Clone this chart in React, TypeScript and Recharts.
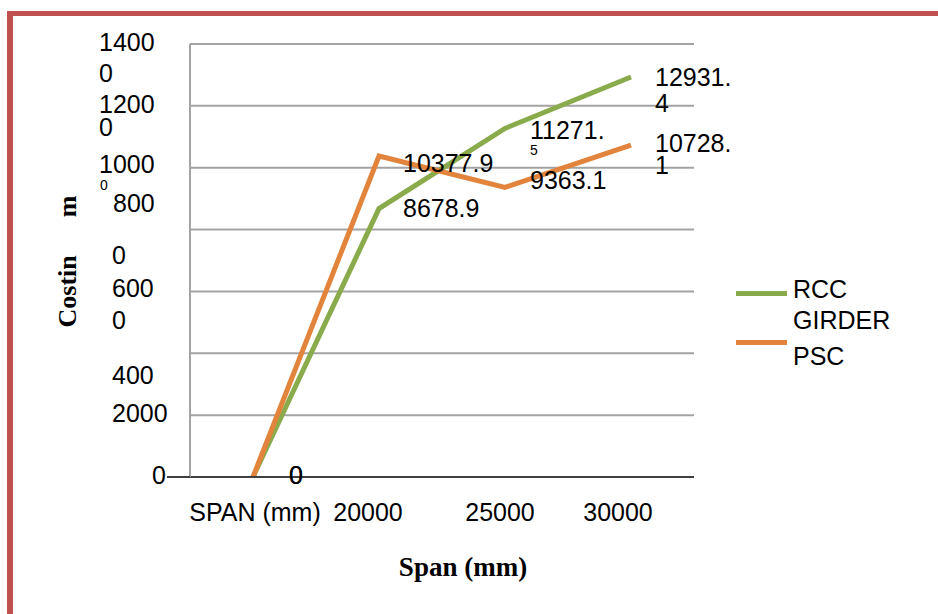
import React from "react";
import { LineChart, Line, XAxis, YAxis, CartesianGrid, LabelList, Label } from "recharts";

const categories = ["SPAN (mm)", "20000", "25000", "30000"];
const rccGirder = [0, 8678.9, 11271.5, 12931.4];
const psc = [0, 10377.9, 9363.1, 10728.1];
const yTicks = [0, 2000, 4000, 6000, 8000, 10000, 12000, 14000];
const seriesNames = ["RCC GIRDER", "PSC"];
const seriesColors = ["#8AAB4C", "#E2843B"];

const data = categories.map((c, i) => ({ span: c, rcc: rccGirder[i], psc: psc[i] }));

const FONT = "'Liberation Sans', Arial, sans-serif";
const SERIF = "'Liberation Serif', 'Times New Roman', serif";
const FS = 25;

// layout of the (oddly wrapped) y tick labels: [text, left x, dy, small]
const yTickLayout: Record<number, Array<[string, number, number, boolean?]>> = {
  14000: [["1400", 99, -2], ["0", 99, 29]],
  12000: [["1200", 99, -2], ["0", 99, 21]],
  10000: [["1000", 99, -4], ["0", 100, 17, true]],
  8000: [["800", 113, -27], ["0", 112, 25]],
  6000: [["600", 112, -3], ["0", 112, 29]],
  4000: [["400", 112, 22]],
  2000: [["2000", 112, -2]],
  0: [["0", 152, -2]],
};

const xTickShift = [2, -11, -5, -13];

const YTick = (props: any) => {
  const { x, y, payload } = props;
  const parts = yTickLayout[payload.value] || [];
  return (
    <g>
      {payload.value === 0 && (
        <line x1={x - 23} x2={x} y1={y} y2={y} stroke="#404040" strokeWidth={2} />
      )}
      {parts.map((p, i) => (
        <text
          key={i}
          x={x + (p[1] - 190)}
          y={y + p[2]}
          textAnchor="start"
          dominantBaseline="central"
          fontFamily={FONT}
          fontSize={p[3] ? 14 : FS}
          fill="#000"
        >
          {p[0]}
        </text>
      ))}
    </g>
  );
};

const XTick = (props: any) => {
  const { x, y, payload, index } = props;
  return (
    <text
      x={x + (xTickShift[index] || 0)}
      y={y + 35}
      textAnchor="middle"
      dominantBaseline="central"
      fontFamily={FONT}
      fontSize={FS}
      fill="#000"
    >
      {payload.value}
    </text>
  );
};

type LabelSpec = { dx: number; dy: number; tailDy?: number; smallTail?: boolean };
const rccLabelLayout: LabelSpec[] = [
  { dx: 36, dy: -2 },
  { dx: 24, dy: -1 },
  { dx: 25, dy: 2, tailDy: 20, smallTail: true },
  { dx: 24, dy: 0, tailDy: 26 },
];
const pscLabelLayout: LabelSpec[] = [
  { dx: 36, dy: -2 },
  { dx: 24, dy: 7 },
  { dx: 25, dy: -7 },
  { dx: 24, dy: -2, tailDy: 22 },
];

const makeLabel = (layout: LabelSpec[]) => (props: any) => {
  const { x, y, value, index } = props;
  const spec = layout[index];
  if (!spec) return null;
  const text = String(value);
  if (spec.tailDy !== undefined) {
    const head = text.slice(0, -1);
    const tail = text.slice(-1);
    return (
      <g>
        <text x={x + spec.dx} y={y + spec.dy} dominantBaseline="central" fontFamily={FONT} fontSize={FS} fill="#000">
          {head}
        </text>
        <text
          x={x + spec.dx}
          y={y + spec.dy + spec.tailDy}
          dominantBaseline="central"
          fontFamily={FONT}
          fontSize={spec.smallTail ? 14 : FS}
          fill="#000"
        >
          {tail}
        </text>
      </g>
    );
  }
  return (
    <text x={x + spec.dx} y={y + spec.dy} dominantBaseline="central" fontFamily={FONT} fontSize={FS} fill="#000">
      {text}
    </text>
  );
};

const YTitle = (props: any) => {
  const vb = props.viewBox || { x: 0, y: 44, width: 190, height: 433 };
  const cx = vb.x + 67;
  const cy = vb.y + vb.height / 2 + 1;
  return (
    <text
      x={cx}
      y={cy}
      transform={`rotate(-90 ${cx} ${cy})`}
      textAnchor="middle"
      dominantBaseline="central"
      fontFamily={SERIF}
      fontWeight="bold"
      fontSize={26}
      fill="#000"
    >
      Costin
      <tspan dx={38}>m</tspan>
    </text>
  );
};

const XTitle = (props: any) => {
  const vb = props.viewBox || { x: 190, y: 477, width: 504, height: 137 };
  return (
    <text
      x={vb.x + vb.width / 2 + 21}
      y={vb.y + 90}
      textAnchor="middle"
      dominantBaseline="central"
      fontFamily={SERIF}
      fontWeight="bold"
      fontSize={27}
      fill="#000"
    >
      Span (mm)
    </text>
  );
};

export default function App() {
  return (
    <div
      style={{
        position: "fixed",
        left: 0,
        top: 0,
        width: 938,
        height: 614,
        overflow: "hidden",
        background: "#fff",
      }}
    >
      <div
        style={{
          position: "absolute",
          left: 7,
          top: 11,
          width: 1000,
          height: 700,
          borderLeft: "6px solid #C0504D",
          borderTop: "5px solid #C0504D",
        }}
      />
      <div style={{ position: "absolute", left: 0, top: 0 }}>
        <LineChart
          width={938}
          height={614}
          data={data}
          margin={{ top: 44, right: 244, bottom: 0, left: 0 }}
        >
          <CartesianGrid horizontal vertical={false} stroke="#A3A3A3" strokeWidth={2} />
          <XAxis
            dataKey="span"
            type="category"
            scale="point"
            padding={{ left: 63, right: 63 }}
            height={137}
            axisLine={{ stroke: "#404040", strokeWidth: 2 }}
            tickLine={false}
            tickSize={0}
            tickMargin={0}
            tick={<XTick />}
            interval={0}
          >
            <Label content={<XTitle />} />
          </XAxis>
          <YAxis
            width={190}
            domain={[0, 14000]}
            ticks={yTicks}
            interval={0}
            axisLine={{ stroke: "#A3A3A3", strokeWidth: 2 }}
            tickLine={false}
            tickSize={0}
            tickMargin={0}
            tick={<YTick />}
          >
            <Label content={<YTitle />} />
          </YAxis>
          <Line
            dataKey="rcc"
            name={seriesNames[0]}
            stroke={seriesColors[0]}
            strokeWidth={5}
            dot={false}
            isAnimationActive={false}
            strokeLinejoin="miter"
          >
            <LabelList dataKey="rcc" content={makeLabel(rccLabelLayout)} />
          </Line>
          <Line
            dataKey="psc"
            name={seriesNames[1]}
            stroke={seriesColors[1]}
            strokeWidth={5}
            dot={false}
            isAnimationActive={false}
            strokeLinejoin="miter"
          >
            <LabelList dataKey="psc" content={makeLabel(pscLabelLayout)} />
          </Line>
        </LineChart>
      </div>
      <div style={{ position: "absolute", left: 736, top: 276, fontFamily: FONT, fontSize: FS, lineHeight: "31px", color: "#000" }}>
        <div style={{ position: "relative", height: 62 }}>
          <div style={{ position: "absolute", left: 0, top: 15, width: 51, height: 5, background: seriesColors[0] }} />
          <div style={{ position: "absolute", left: 57, top: -2, width: 120 }}>RCC<br />GIRDER</div>
        </div>
        <div style={{ position: "relative", height: 40 }}>
          <div style={{ position: "absolute", left: 0, top: 2, width: 51, height: 5, background: seriesColors[1] }} />
          <div style={{ position: "absolute", left: 57, top: 3, width: 120 }}>{seriesNames[1]}</div>
        </div>
      </div>
    </div>
  );
}
